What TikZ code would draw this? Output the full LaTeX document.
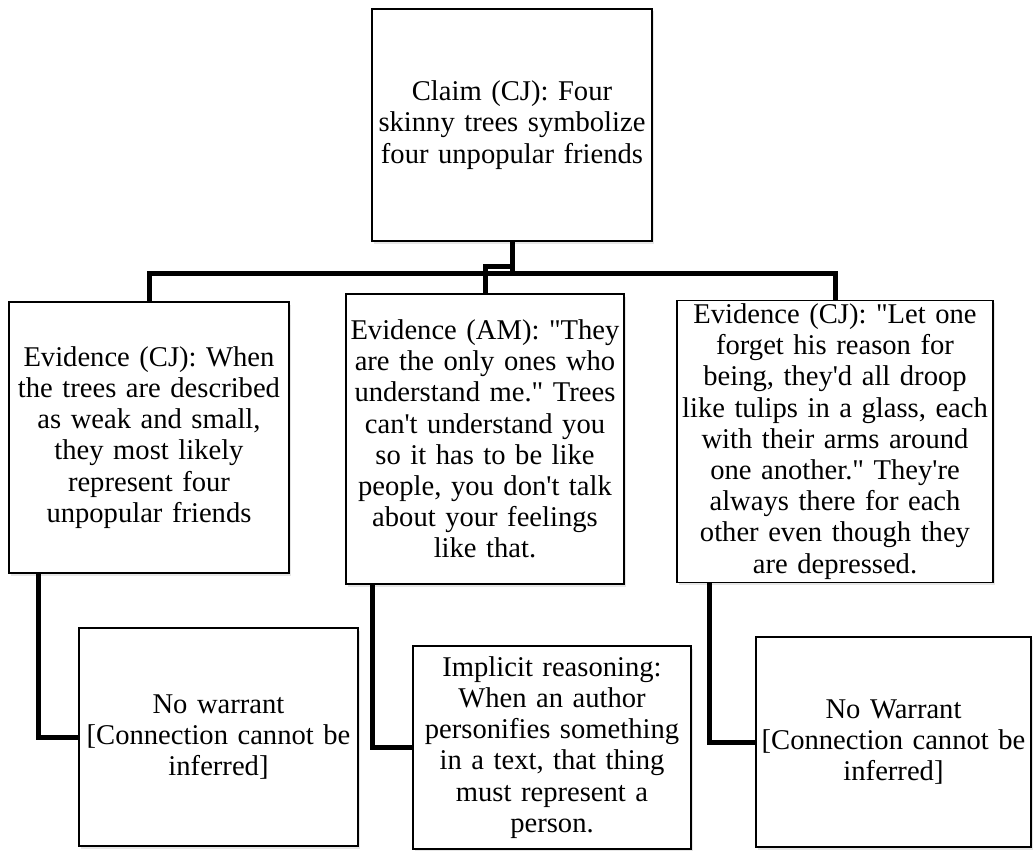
\documentclass[tikz,border=0pt]{standalone}
\usepackage{fontspec}
\newfontfamily\boxfont{Liberation Serif}
\usetikzlibrary{positioning,shadows}

\begin{document}
\begin{tikzpicture}[x=1pt,y=-1pt,on grid,
	argbox/.style={draw,line width=1.2pt,fill=white,align=center,inner xsep=-4pt,inner ysep=3pt,
		font=\boxfont\fontsize{28.6}{31.2}\selectfont,
		drop shadow={opacity=0.2,shadow xshift=1.5pt,shadow yshift=-2.5pt}},
	joint/.style={line width=5pt}]
	\useasboundingbox (0,0) rectangle (1034,851);
	\node[argbox,text width=288pt,minimum height=232pt] (claim) at (512,125)
		{Claim (CJ): Four\\ skinny trees symbolize\\ four unpopular friends};
	\node[argbox,text width=288pt,minimum height=271pt,below left=312.5pt and 363pt of claim] (ev1)
		{Evidence (CJ): When\\ the trees are described\\ as weak and small,\\ they most likely\\ represent four\\ unpopular friends};
	\node[argbox,text width=286pt,minimum height=290pt,below left=314pt and 27pt of claim] (ev2)
		{Evidence (AM): "They\\ are the only ones who\\ understand me." Trees\\ can't understand you\\ so it has to be like\\ people, you don't talk\\ about your feelings\\ like that.};
	\node[argbox,text width=324pt,minimum height=281pt,below right=316.5pt and 323pt of claim] (ev3)
		{Evidence (CJ): "Let one\\ forget his reason for\\ being, they'd all droop\\ like tulips in a glass, each\\ with their arms around\\ one another." They're\\ always there for each\\ other even though they\\ are depressed.};
	\node[argbox,text width=287pt,minimum height=218pt,below right=299.5pt and 69.5pt of ev1] (w1)
		{No warrant\\ {[}Connection cannot be\\ inferred]};
	\node[argbox,text width=286pt,minimum height=203pt,below right=308.5pt and 67pt of ev2] (w2)
		{Implicit reasoning:\\ When an author\\ personifies something\\ in a text, that thing\\ must represent a\\ person.};
	\node[argbox,text width=283pt,minimum height=210pt,below right=300.5pt and 58.5pt of ev3] (w3)
		{No Warrant\\ {[}Connection cannot be\\ inferred]};
	% claim to evidence
	\draw[joint] (claim.south) -- ++(0,33);
	\draw[joint] (ev1.north) -- ++(0,-28) -| (ev3.north);
	\draw[joint] ([yshift=-25pt]claim.south) -| (ev2.north);
	% evidence to warrant
	\draw[joint] ([xshift=30pt]ev1.south west) |- (w1.west);
	\draw[joint] ([xshift=27pt]ev2.south west) |- (w2.west);
	\draw[joint] ([xshift=33pt]ev3.south west) |- (w3.west);
\end{tikzpicture}
\end{document}
